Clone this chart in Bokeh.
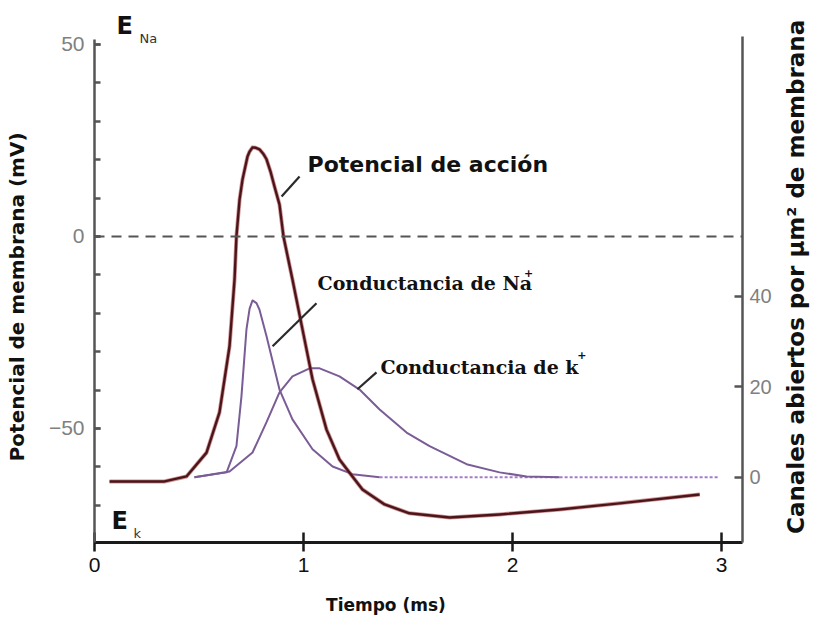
import math
from bokeh.plotting import figure
from bokeh.layouts import row
from bokeh.models import Range1d, LinearAxis, FixedTicker, Span, Label, ColumnDataSource
from bokeh.embed import file_html
from bokeh.resources import INLINE

# ---- data (time in ms, potential in mV, channels per um^2) ----
ap_t = [0.072, 0.335, 0.440, 0.536, 0.598, 0.646, 0.670, 0.679, 0.694, 0.708, 0.732,
        0.742, 0.756, 0.770, 0.789, 0.809, 0.823, 0.842, 0.861, 0.885, 0.904, 0.947,
        0.995, 1.043, 1.110, 1.172, 1.234, 1.282, 1.388, 1.507, 1.699, 1.938, 2.225,
        2.512, 2.895]
ap_mv = [-63.8, -63.8, -62.5, -56.3, -45.8, -28.6, -11.2, 0.0, 9.6, 14.8, 20.8,
         22.1, 23.2, 23.1, 22.7, 21.4, 20.1, 16.9, 13.0, 8.3, 0.0, -11.2,
         -24.2, -37.2, -50.3, -58.1, -62.5, -65.9, -69.8, -72.1, -73.2, -72.4, -71.1,
         -69.5, -67.2]

na_t = [0.478, 0.632, 0.679, 0.703, 0.727, 0.742, 0.756, 0.775, 0.789, 0.823, 0.885,
        0.947, 1.043, 1.139, 1.234, 1.364]
na_c = [0.0, 1.1, 6.9, 17.9, 32.7, 37.3, 39.1, 38.5, 37.1, 31.2, 19.4,
        12.8, 6.2, 2.4, 0.7, 0.0]

k_t = [0.478, 0.646, 0.756, 0.823, 0.885, 0.947, 1.029, 1.077, 1.172, 1.268, 1.364,
       1.493, 1.603, 1.780, 1.938, 2.067, 2.225]
k_c = [0.0, 1.3, 5.5, 12.2, 18.8, 22.3, 24.1, 24.1, 22.3, 19.4, 15.0,
       9.9, 6.9, 2.9, 1.1, 0.2, 0.0]

base_t = [1.364, 2.990]
base_c = [0.0, 0.0]

x_ticks = [0, 1, 2, 3]
mv_ticks = [-50, 0, 50]
mv_minor = [-80, -70, -60, -50, -40, -30, -20, -10, 0, 10, 20, 30, 40, 50]
c_ticks = [0, 20, 40]

# leader lines (from label to curve)
lead_x0 = [0.895, 0.852, 1.258]
lead_y0 = [10.4, -28.6, -39.8]
lead_x1 = [0.981, 1.062, 1.349]
lead_y1 = [15.6, -17.4, -35.4]

NB = "\u00a0"

p = figure(width=776, height=620, x_range=Range1d(0, 3.1), y_range=Range1d(-79.7, 59.1),
           output_backend="svg", toolbar_location=None,
           min_border_left=94, min_border_right=34, min_border_top=9, min_border_bottom=78)
p.extra_y_ranges = {"c": Range1d(-14.4, 103.4)}
p.outline_line_color = None
p.xgrid.visible = False
p.ygrid.visible = False
p.background_fill_color = "white"
p.border_fill_color = "white"

# left axis
ya = p.yaxis[0]
ya.ticker = FixedTicker(ticks=mv_ticks, minor_ticks=mv_minor)
ya.bounds = (-79.7, 51.3)
ya.axis_line_color = "#555555"
ya.axis_line_width = 2.5
ya.major_tick_line_color = "#555555"
ya.major_tick_line_width = 2.5
ya.minor_tick_line_color = "#555555"
ya.minor_tick_line_width = 2.5
ya.major_tick_in = 6
ya.major_tick_out = 0
ya.minor_tick_in = 6
ya.minor_tick_out = 0
ya.major_label_standoff = 10
ya.major_label_text_font = "Liberation Sans"
ya.major_label_text_font_size = "21px"
ya.major_label_text_color = "#808080"
ya.axis_label = "Potencial de membrana (mV)" + NB * 6
ya.axis_label_text_font = "DejaVu Sans"
ya.axis_label_text_font_style = "bold"
ya.axis_label_text_font_size = "20px"
ya.axis_label_text_color = "#111111"
ya.axis_label_standoff = 17

# bottom axis
xa = p.xaxis[0]
xa.ticker = FixedTicker(ticks=x_ticks)
xa.axis_line_color = "#1a1a1a"
xa.axis_line_width = 3
xa.major_tick_line_color = "#1a1a1a"
xa.major_tick_line_width = 2.5
xa.major_tick_in = 10
xa.major_tick_out = 9
xa.minor_tick_line_color = None
xa.major_label_standoff = 6
xa.major_label_text_font = "Liberation Sans"
xa.major_label_text_font_size = "21px"
xa.major_label_text_color = "#111111"
xa.axis_label = "Tiempo (ms)" + NB * 11
xa.axis_label_text_font = "DejaVu Sans"
xa.axis_label_text_font_style = "bold"
xa.axis_label_text_font_size = "17px"
xa.axis_label_text_color = "#111111"
xa.axis_label_standoff = 20

# right axis
ra = LinearAxis(y_range_name="c", ticker=FixedTicker(ticks=c_ticks))
ra.bounds = (-14.4, 97.5)
ra.axis_line_color = "#555555"
ra.axis_line_width = 2.5
ra.major_tick_line_color = "#555555"
ra.major_tick_line_width = 2.5
ra.major_tick_in = 8
ra.major_tick_out = 0
ra.minor_tick_line_color = None
ra.major_label_standoff = 7
ra.major_label_text_font = "Liberation Sans"
ra.major_label_text_font_size = "20px"
ra.major_label_text_color = "#808080"
p.add_layout(ra, "right")

# zero line
p.add_layout(Span(location=0, dimension="width", line_color="#555555",
                  line_width=2, line_dash="10 7"))

# conductances
purple = "#7a5c96"
p.line(base_t, base_c, y_range_name="c", line_color="#a47cc4", line_width=2, line_dash="3 2")
p.line(k_t, k_c, y_range_name="c", line_color=purple, line_width=2, line_join="round")
p.line(na_t, na_c, y_range_name="c", line_color=purple, line_width=2, line_join="round")

# action potential
p.line(ap_t, ap_mv, line_color="#b0484a", line_width=4, line_alpha=0.6, line_join="round")
p.line(ap_t, ap_mv, line_color="#4a161b", line_width=2.4, line_join="round")

# leaders
p.segment(x0="x0", y0="y0", x1="x1", y1="y1",
          source=ColumnDataSource(dict(x0=lead_x0, y0=lead_y0, x1=lead_x1, y1=lead_y1)),
          line_color="#2a2a2a", line_width=2.2)

def lab(fig, x, y, text, font, size, color="#111111", style="bold", align="left", angle=0.0):
    fig.add_layout(Label(x=x, y=y, text=text, text_font=font, text_font_size=size,
                         text_color=color, text_font_style=style, text_align=align,
                         text_baseline="middle", angle=angle))

lab(p, 1.019, 18.75, "Potencial de acción", "DejaVu Sans", "22px")
lab(p, 1.067, -12.0, "Conductancia de Na", "DejaVu Serif", "19px")
lab(p, 2.055, -9.4, "+", "DejaVu Sans", "11px")
lab(p, 1.368, -34.1, "Conductancia de k", "DejaVu Serif", "19px")
lab(p, 2.31, -31.0, "+", "DejaVu Sans", "11px")

lab(p, 0.105, 54.7, "E", "DejaVu Sans", "24px")
lab(p, 0.215, 51.6, "Na", "DejaVu Sans", "13px", color="#333333", style="normal")
lab(p, 0.081, -74.2, "E", "DejaVu Sans", "24px")
lab(p, 0.187, -77.3, "k", "DejaVu Sans", "13px", color="#333333", style="normal")

# right-hand title strip (a narrow figure holding the vertical title)
p2 = figure(width=37, height=620, x_range=Range1d(0, 37), y_range=Range1d(0, 620),
            output_backend="svg", toolbar_location=None, x_axis_type=None, y_axis_type=None,
            min_border=0, min_border_left=0, min_border_right=0, min_border_top=0,
            min_border_bottom=0)
p2.outline_line_color = None
p2.xgrid.visible = False
p2.ygrid.visible = False
p2.background_fill_color = "white"
p2.border_fill_color = "white"
lab(p2, 19, 309, "Canales abiertos por µm² de membrana", "DejaVu Sans", "23px",
    align="center", angle=math.pi / 2)

layout = row(p, p2, spacing=0)
open("out.html", "w").write(file_html(layout, INLINE))
